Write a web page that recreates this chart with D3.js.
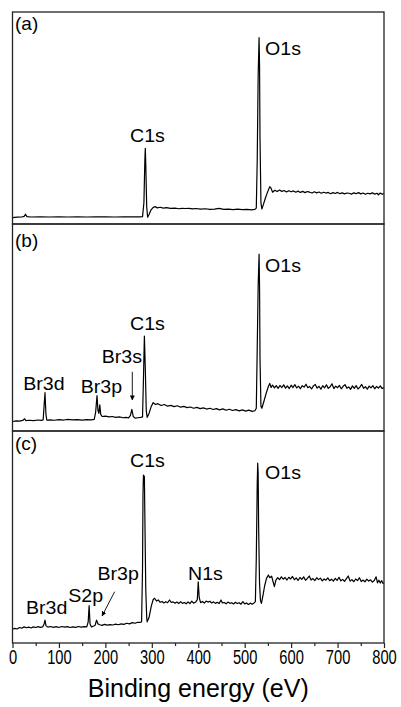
<!DOCTYPE html>
<html>
<head>
<meta charset="utf-8">
<script src="https://cdn.jsdelivr.net/npm/d3@7"></script>
<style>
  body { margin: 0; background: #fff; }
  text { font-family: "Liberation Sans", Arial, sans-serif; fill: #000; }
</style>
</head>
<body>
<script>
// XPS survey spectra, three samples stacked. energy in eV, intensity in a.u. (0-100 per panel)
var panelNames = ["(a)", "(b)", "(c)"];

var specA = [[0,3.0],[10,3.2],[20,3.3],[25,3.6],[28,4.6],[31,3.5],[40,3.3],[60,3.4],[80,3.3],[100,3.4],[120,3.3],[140,3.4],[160,3.3],[180,3.4],[200,3.4],[220,3.3],[240,3.4],[260,3.4],[275,3.4],[280,3.5],[283,10],[285,30],[286,35.7],[287,28],[289,8],[291,3.2],[294,4.5],[298,6.5],[303,7.8],[307,8.2],[312,7.6],[318,7.9],[325,7.5],[332,7.7],[340,7.4],[350,7.5],[358,7.2],[365,7.4],[372,7.3],[380,7.4],[388,7.1],[395,7.3],[405,7.0],[415,7.2],[425,6.9],[435,7.0],[445,7.4],[455,6.9],[465,7.0],[475,6.8],[485,7.0],[495,6.8],[505,6.9],[515,6.7],[522,6.9],[525,7.5],[527,30],[529,70],[531,87.9],[532,75],[533,40],[535,10],[537,7.1],[540,9],[545,12.5],[550,15.5],[554,17.6],[557,16.8],[560,15.0],[565,15.9],[570,15.3],[575,16.0],[580,15.4],[585,15.8],[590,15.1],[595,15.7],[600,15.2],[605,15.6],[610,15.0],[615,15.5],[620,14.9],[625,15.4],[630,14.8],[635,15.3],[640,15.0],[645,14.6],[650,15.2],[655,14.7],[660,15.1],[665,14.5],[670,15.0],[675,14.6],[680,14.9],[685,14.3],[690,14.8],[695,14.4],[700,14.9],[705,14.3],[710,14.7],[715,14.2],[720,14.6],[725,14.5],[730,14.1],[735,14.7],[740,14.3],[745,14.8],[750,14.2],[755,14.6],[760,14.0],[765,14.5],[770,14.2],[775,14.7],[780,14.1],[785,14.5],[788,13.8],[792,14.6],[796,14.0],[800,14.4]];

var specB = [[0,4.6],[8,4.9],[15,4.8],[22,5.1],[26,5.9],[29,5.0],[35,5.2],[45,5.0],[55,5.3],[62,5.1],[66,5.4],[68,12],[70,18.5],[72,8],[74,5.2],[80,5.4],[90,5.2],[100,5.5],[110,5.3],[120,5.6],[130,5.4],[140,5.5],[150,5.3],[160,5.5],[170,5.4],[176,5.6],[179,9],[182,17.1],[184,10],[186,8.5],[188,12.6],[190,8.0],[193,7.0],[200,7.2],[208,6.8],[215,7.0],[222,6.6],[230,6.8],[238,6.4],[245,6.6],[250,6.3],[254,7.5],[257,10.5],[260,7.0],[264,6.2],[270,6.4],[276,6.6],[280,6.8],[282,25],[284,45.9],[286,30],[288,10],[290,6.6],[294,8.5],[299,12],[303,13.7],[308,12.8],[313,13.2],[320,12.3],[327,12.8],[334,12.0],[341,12.4],[348,11.8],[355,12.2],[362,11.5],[369,11.9],[376,11.3],[383,11.6],[390,11.0],[397,11.4],[404,10.8],[411,11.2],[418,10.6],[425,11.0],[432,10.4],[439,10.8],[446,10.2],[453,10.7],[460,10.0],[467,10.5],[474,9.9],[481,10.3],[488,9.7],[495,10.2],[502,9.6],[509,10.1],[516,9.5],[522,9.8],[525,11],[527,40],[529,70],[531,85.4],[532,70],[533,35],[535,12],[537,11.0],[541,14],[546,18],[551,21.5],[554,23.0],[557,21.0],[560,22.2],[564,20.8],[568,21.9],[572,20.6],[576,22.0],[580,21.0],[584,22.3],[588,20.7],[592,21.8],[596,20.5],[600,22.1],[604,21.0],[608,22.4],[612,20.8],[616,21.7],[620,20.4],[624,21.9],[628,21.2],[632,22.6],[636,20.9],[640,21.5],[644,20.3],[648,21.8],[652,22.5],[656,20.7],[660,21.6],[664,20.2],[668,21.9],[672,20.8],[676,22.3],[680,20.6],[684,21.4],[688,22.8],[692,20.5],[696,21.7],[700,20.9],[704,22.0],[708,20.4],[712,21.6],[716,22.4],[720,20.7],[724,21.3],[728,20.1],[732,21.8],[736,20.6],[740,21.9],[744,20.3],[748,21.2],[752,22.5],[756,20.6],[760,21.4],[764,20.2],[768,21.7],[772,20.8],[776,21.9],[780,20.4],[784,21.5],[788,20.7],[792,21.8],[796,20.5],[800,21.0]];

var specC = [[0,6.5],[5,6.9],[10,6.6],[15,7.3],[20,7.0],[25,7.6],[30,7.2],[35,7.5],[40,7.1],[45,7.6],[50,7.3],[55,7.7],[60,7.4],[65,7.6],[68,9.0],[70,10.8],[72,8.2],[76,7.5],[82,7.8],[88,7.4],[94,7.7],[100,7.3],[106,7.8],[112,7.5],[118,7.7],[124,7.3],[130,7.6],[136,7.4],[142,7.8],[148,7.5],[154,7.7],[160,7.6],[163,10],[165,17.6],[167,9],[170,7.6],[175,8.0],[178,8.4],[181,10.8],[184,9.0],[188,8.6],[193,8.3],[198,8.8],[204,8.4],[210,8.7],[216,8.5],[222,8.9],[228,8.6],[234,9.0],[240,8.8],[246,9.3],[252,9.0],[258,9.6],[264,9.3],[270,9.8],[275,9.7],[278,10.0],[280,35],[281,70],[282,79.2],[284,78.5],[285,60],[287,25],[289,12],[290,10.0],[294,12],[299,17.5],[303,20.5],[306,21.1],[310,19.8],[314,20.3],[318,19.2],[322,19.6],[326,18.9],[330,19.5],[334,19.0],[338,20.3],[342,19.1],[346,19.4],[350,18.8],[354,19.3],[358,18.6],[362,19.5],[366,18.7],[370,19.1],[374,18.5],[378,19.4],[382,18.6],[386,19.7],[390,18.8],[394,19.2],[398,20.5],[400,28.9],[402,21.5],[405,19.0],[409,19.6],[413,18.8],[417,19.8],[421,19.3],[425,19.7],[429,18.9],[433,19.4],[437,18.7],[441,19.2],[445,18.6],[449,20.3],[452,18.9],[456,19.1],[460,18.5],[464,19.3],[468,18.7],[472,19.0],[476,18.4],[480,19.2],[484,18.6],[488,19.0],[492,18.3],[496,19.5],[500,18.4],[504,18.9],[508,18.2],[512,18.8],[516,18.3],[520,18.9],[523,19.5],[525,40],[527,75],[528,84.8],[529,80],[530,55],[532,28],[534,20],[536,18.7],[539,22],[543,27],[547,30.5],[551,32.1],[554,30.8],[558,31.5],[561,29.0],[564,26.6],[567,29.5],[571,30.8],[575,29.9],[579,31.2],[583,30.1],[587,30.9],[591,29.7],[595,31.0],[599,30.2],[603,31.4],[607,29.8],[611,30.7],[615,29.5],[619,30.9],[623,30.0],[627,31.2],[631,29.6],[635,30.5],[639,31.6],[643,29.7],[647,30.4],[651,29.4],[655,30.8],[659,29.9],[663,30.6],[667,29.3],[671,30.2],[675,29.6],[679,30.7],[683,29.4],[687,30.1],[691,29.2],[695,30.5],[699,29.5],[703,31.0],[707,29.3],[711,30.0],[715,29.1],[719,30.4],[723,31.6],[727,29.2],[731,29.9],[735,28.9],[739,30.2],[743,29.4],[747,30.8],[751,29.0],[755,29.7],[759,28.8],[763,30.1],[767,29.2],[771,29.8],[775,28.7],[779,29.5],[783,31.2],[786,28.4],[789,29.6],[792,28.3],[795,29.4],[798,28.1],[800,28.3]];

// peak labels: [text, eV, intensity] of the left/baseline corner of the text
var labelsA = [["C1s", 253, 38.5], ["O1s", 544, 79.7]];
var labelsB = [["Br3d", 23, 19.8], ["Br3p", 147, 18.5], ["Br3s", 192, 32.7], ["C1s", 253, 48.8], ["O1s", 544, 76.7]];
var labelsC = [["Br3d", 29, 13.7], ["S2p", 120, 19.5], ["Br3p", 183, 29.7], ["C1s", 253, 82.9], ["N1s", 378, 29.7], ["O1s", 544, 77.2]];

// arrows: [eV from, int from, eV to, int to]
var arrowsB = [[258, 28.6, 258, 15.0]];
var arrowsC = [[220, 24.2, 193, 12.8]];

var xTicks = [0, 100, 200, 300, 400, 500, 600, 700, 800];
var xMinor = [50, 150, 250, 350, 450, 550, 650, 750];

var W = 401, H = 707;
var left = 12.5, right = 384;
var panelTops = [12, 224, 431], bottom = 643;

var svg = d3.select("body").append("svg")
    .attr("width", W)
    .attr("height", H);

var x = d3.scaleLinear().domain([0, 800]).range([left, right]);

var panels = [
  {name: panelNames[0], data: specA, labels: labelsA, arrows: [], nameDy: 18},
  {name: panelNames[1], data: specB, labels: labelsB, arrows: arrowsB, nameDy: 23},
  {name: panelNames[2], data: specC, labels: labelsC, arrows: arrowsC, nameDy: 19}
];

svg.append("defs").append("marker")
    .attr("id", "head")
    .attr("viewBox", "0 0 10 10")
    .attr("refX", 9).attr("refY", 5)
    .attr("markerWidth", 5).attr("markerHeight", 5)
    .attr("markerUnits", "userSpaceOnUse")
    .attr("orient", "auto")
    .append("path")
    .attr("d", "M0,0L10,5L0,10Z")
    .attr("fill", "#000");

panels.forEach(function(p, i) {
  var top = panelTops[i];
  var bot = i < 2 ? panelTops[i + 1] : bottom;
  var y = d3.scaleLinear().domain([0, 100]).range([bot, top]);

  var line = d3.line()
      .x(function(d) { return x(d[0]); })
      .y(function(d) { return y(d[1]); });

  svg.append("path")
      .datum(p.data)
      .attr("d", line)
      .attr("fill", "none")
      .attr("stroke", "#000")
      .attr("stroke-width", 1.2)
      .attr("stroke-linejoin", "round");

  svg.append("text")
      .attr("x", 15)
      .attr("y", top + p.nameDy)
      .style("font-size", "19px")
      .text(p.name);

  p.labels.forEach(function(l) {
    svg.append("text")
        .attr("transform", "translate(" + x(l[1]) + "," + y(l[2]) + ") scale(1.12,1)")
        .style("font-size", "17.5px")
        .text(l[0]);
  });

  p.arrows.forEach(function(a) {
    svg.append("line")
        .attr("x1", x(a[0])).attr("y1", y(a[1]))
        .attr("x2", x(a[2])).attr("y2", y(a[3]))
        .attr("stroke", "#000")
        .attr("stroke-width", 0.9)
        .attr("marker-end", "url(#head)");
  });

  // panel frame
  svg.append("rect")
      .attr("x", left).attr("y", top)
      .attr("width", right - left).attr("height", bot - top)
      .attr("fill", "none")
      .attr("stroke", "#222")
      .attr("stroke-width", 1.3);
});

// bottom axis
var axis = svg.append("g")
    .attr("transform", "translate(0," + bottom + ")")
    .call(d3.axisBottom(x).tickValues(xTicks).tickSize(5).tickFormat(d3.format("d")));
axis.select(".domain").remove();
axis.selectAll("line").attr("stroke", "#222").attr("stroke-width", 1.2);
axis.selectAll("text")
    .attr("y", null).attr("dy", null)
    .attr("transform", "translate(0,20.5) scale(0.7,1)")
    .style("font-size", "21px")
    .attr("fill", "#000");

var minor = svg.append("g")
    .attr("transform", "translate(0," + bottom + ")")
    .call(d3.axisBottom(x).tickValues(xMinor).tickSize(3).tickFormat(""));
minor.select(".domain").remove();
minor.selectAll("line").attr("stroke", "#222").attr("stroke-width", 1.2);

svg.append("text")
    .attr("x", (left + right) / 2)
    .attr("y", 697)
    .style("text-anchor", "middle")
    .style("font-size", "25px")
    .text("Binding energy (eV)");
</script>
</body>
</html>
